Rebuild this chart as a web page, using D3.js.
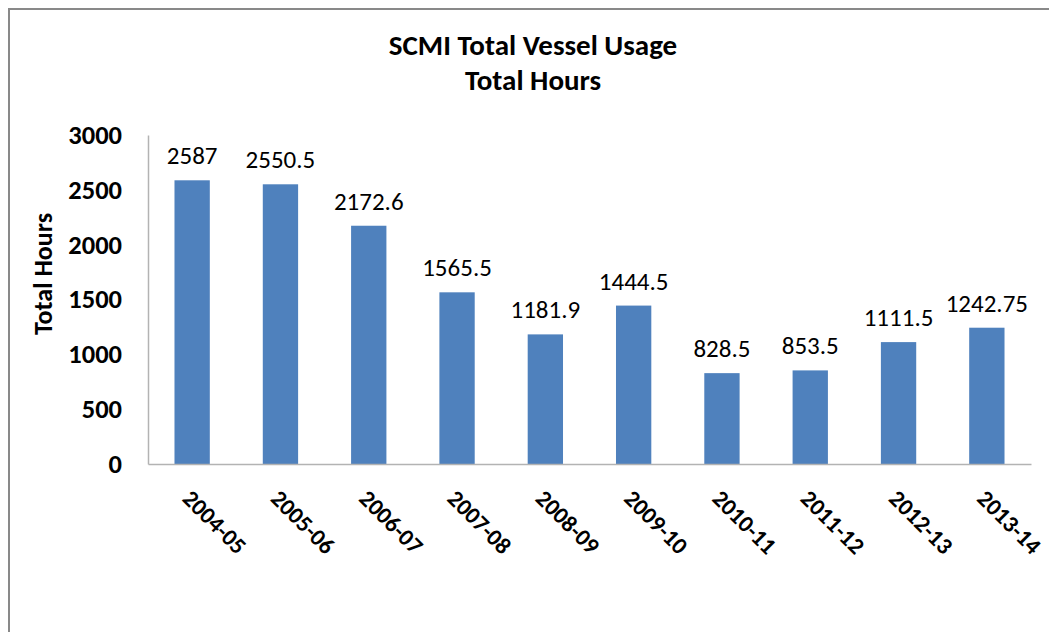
<!DOCTYPE html>
<html><head><meta charset="utf-8">
<script src="https://cdn.jsdelivr.net/npm/d3@7"></script>
<style>
html,body{margin:0;padding:0;background:#fff;}
svg{display:block;}
text{font-family:Carlito,Lato,"Open Sans",sans-serif;fill:#000;}
</style></head>
<body>
<svg id="chart" width="1049" height="632"></svg>
<script>
const categories = ["2004-05","2005-06","2006-07","2007-08","2008-09","2009-10","2010-11","2011-12","2012-13","2013-14"];
const values = [2587, 2550.5, 2172.6, 1565.5, 1181.9, 1444.5, 828.5, 853.5, 1111.5, 1242.75];
const valueLabels = ["2587","2550.5","2172.6","1565.5","1181.9","1444.5","828.5","853.5","1111.5","1242.75"];
const yTicks = [0, 500, 1000, 1500, 2000, 2500, 3000];
const titleLines = ["SCMI Total Vessel Usage", "Total Hours"];
const yTitle = "Total Hours";

const svg = d3.select("#chart");
// outer frame
svg.append("rect").attr("x", 9).attr("y", 9).attr("width", 1100).attr("height", 700)
  .attr("fill", "none").attr("stroke", "#898989").attr("stroke-width", 2);

const x = d3.scaleBand().domain(categories).range([148, 1031]).paddingInner(0.6).paddingOuter(0.3);
const y = d3.scaleLinear().domain([0, 3000]).range([464, 135]);

// title
svg.append("g").selectAll("text").data(titleLines).join("text")
  .attr("x", 533).attr("y", (d, i) => 55 + i * 35)
  .attr("text-anchor", "middle").attr("font-weight", "bold").attr("font-size", 29)
  .text(d => d);

// bars
svg.append("g").selectAll("rect").data(values).join("rect")
  .attr("x", (d, i) => x(categories[i])).attr("width", x.bandwidth())
  .attr("y", d => y(d)).attr("height", d => y(0) - y(d))
  .attr("fill", "#4F81BD");

// value labels
svg.append("g").selectAll("text").data(values).join("text")
  .attr("x", (d, i) => x(categories[i]) + x.bandwidth() / 2)
  .attr("y", d => y(d) - 16)
  .attr("text-anchor", "middle").attr("font-size", 25)
  .text((d, i) => valueLabels[i]);

// y axis
const yAxis = d3.axisLeft(y).tickValues(yTicks).tickSize(0).tickPadding(26).tickFormat(d3.format("d"));
const gy = svg.append("g").attr("transform", "translate(148,0)").call(yAxis);
gy.select(".domain").attr("stroke", "#b3b3b3").attr("stroke-width", 1.5);
gy.selectAll("text").attr("font-size", 26.5).attr("font-weight", "bold")
  .attr("font-family", "Carlito,Lato,'Open Sans',sans-serif").attr("fill", "#000");

// x axis
const xAxis = d3.axisBottom(x).tickSize(0).tickPadding(0);
const gx = svg.append("g").attr("transform", "translate(0,464)").call(xAxis);
gx.select(".domain").attr("stroke", "#b3b3b3").attr("stroke-width", 1.5);
gx.selectAll("text")
  .attr("font-size", 23.5).attr("font-weight", "bold")
  .attr("font-family", "Carlito,Lato,'Open Sans',sans-serif").attr("fill", "#000")
  .attr("text-anchor", "start").attr("dy", null).attr("y", 0)
  .attr("transform", "translate(-11,36) rotate(45)");

// y axis title
svg.append("text").attr("transform", "translate(52,274) rotate(-90)")
  .attr("text-anchor", "middle").attr("font-weight", "bold").attr("font-size", 26)
  .text(yTitle);
</script>
</body></html>
